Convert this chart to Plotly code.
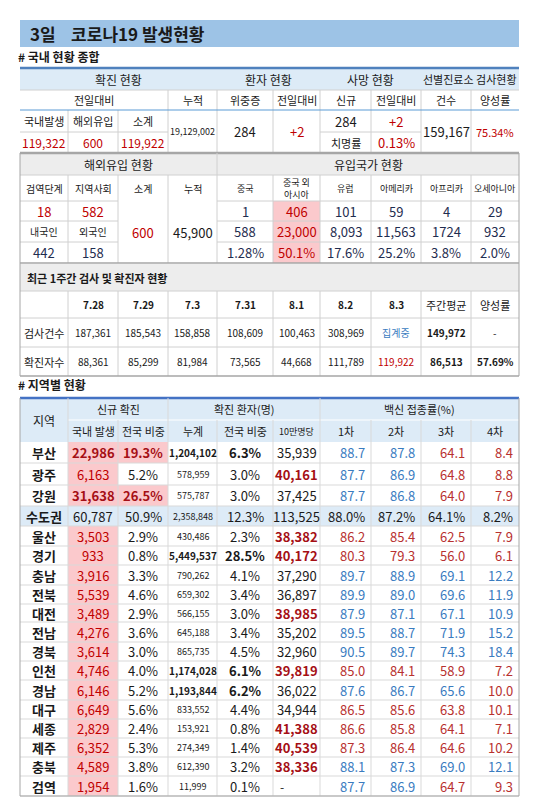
import plotly.graph_objects as go

# ---- 데이터 ----
summary_labels = ["국내발생", "해외유입", "소계"]
summary_values = ["119,322", "600", "119,922"]
cumulative_total = "19,129,002"
critical = "284"
critical_diff = "+2"
deaths_new = "284"
deaths_diff = "+2"
fatality = "0.13%"
tests_count = "159,167"
positivity = "75.34%"

import_hdr = ["검역단계", "지역사회", "소계", "누적", "중국", "중국 외<br>아시아", "유럽", "아메리카", "아프리카", "오세아니아"]
import_row1 = ["18", "582"]
import_row2 = ["내국인", "외국인"]
import_row3 = ["442", "158"]
import_subtotal = "600"
import_cumulative = "45,900"
country_counts = ["1", "406", "101", "59", "4", "29"]
country_cumul = ["588", "23,000", "8,093", "11,563", "1724", "932"]
country_share = ["1.28%", "50.1%", "17.6%", "25.2%", "3.8%", "2.0%"]

week_dates = ["7.28", "7.29", "7.3", "7.31", "8.1", "8.2", "8.3", "주간평균", "양성률"]
week_tests = ["187,361", "185,543", "158,858", "108,609", "100,463", "308,969", "집계중", "149,972", "-"]
week_cases = ["88,361", "85,299", "81,984", "73,565", "44,668", "111,789", "119,922", "86,513", "57.69%"]

regions = ["부산", "광주", "강원", "수도권", "울산", "경기", "충남", "전북", "대전", "전남", "경북",
           "인천", "경남", "대구", "세종", "제주", "충북", "검역"]
new_cases = ["22,986", "6,163", "31,638", "60,787", "3,503", "933", "3,916", "5,539", "3,489", "4,276",
             "3,614", "4,746", "6,146", "6,649", "2,829", "6,352", "4,589", "1,954"]
new_share = ["19.3%", "5.2%", "26.5%", "50.9%", "2.9%", "0.8%", "3.3%", "4.6%", "2.9%", "3.6%",
             "3.0%", "4.0%", "5.2%", "5.6%", "2.4%", "5.3%", "3.8%", "1.6%"]
cum_cases = ["1,204,102", "578,959", "575,787", "2,358,848", "430,486", "5,449,537", "790,262", "659,302",
             "566,155", "645,188", "865,735", "1,174,028", "1,193,844", "833,552", "153,921", "274,349",
             "612,390", "11,999"]
cum_share = ["6.3%", "3.0%", "3.0%", "12.3%", "2.3%", "28.5%", "4.1%", "3.4%", "3.0%", "3.4%", "4.5%",
             "6.1%", "6.2%", "4.4%", "0.8%", "1.4%", "3.2%", "0.1%"]
per_100k = ["35,939", "40,161", "37,425", "113,525", "38,382", "40,172", "37,290", "36,897", "38,985",
            "35,202", "32,960", "39,819", "36,022", "34,944", "41,388", "40,539", "38,336", "-"]
vac1 = ["88.7", "87.7", "87.7", "88.0%", "86.2", "80.3", "89.7", "89.9", "87.9", "89.5", "90.5", "85.0",
        "87.6", "86.5", "86.6", "87.3", "88.1", "87.7"]
vac2 = ["87.8", "86.9", "86.8", "87.2%", "85.4", "79.3", "88.9", "89.0", "87.1", "88.7", "89.7", "84.1",
        "86.7", "85.6", "85.8", "86.4", "87.3", "86.9"]
vac3 = ["64.1", "64.8", "64.0", "64.1%", "62.5", "56.0", "69.1", "69.6", "67.1", "71.9", "74.3", "58.9",
        "65.6", "63.8", "64.1", "64.6", "69.0", "64.7"]
vac4 = ["8.4", "8.8", "7.9", "8.2%", "7.9", "6.1", "12.2", "11.9", "10.9", "15.2", "18.4", "7.2",
        "10.0", "10.1", "7.1", "10.2", "12.1", "9.3"]
# 백신 색상 (B=파랑, R=빨강)
vac_flags = ["BBRR", "BBRR", "BBRR", "----", "RRRR", "RRRR", "BBBB", "BBBB", "BBBB", "BBBB", "BBBB",
             "RRRR", "BBBR", "RRRR", "RRRR", "RRRR", "BBBB", "BBRR"]

# ---- 스타일 ----
XS = [12, 60, 110, 160, 209, 265, 312, 363, 413, 463, 511]
LB = "#ddebf7"
GRAY = "#ededed"
PINK = "#fbc9cc"
RED = "#c00000"
DRED = "#a50f15"
BLUE = "#3a7cbf"
NAVY = "#1f2d50"
TXT = "#1a1a1a"
FONT = "Noto Sans CJK KR"

fig = go.Figure()
shapes, annots = [], []


def rect(x0, x1, y0, y1, fill):
    shapes.append(dict(type="rect", x0=x0, x1=x1, y0=y0, y1=y1, fillcolor=fill, line_width=0, layer="below"))


def line(x0, y0, x1, y1, color="#d0d0d0", w=1):
    shapes.append(dict(type="line", x0=x0, x1=x1, y0=y0, y1=y1, line=dict(color=color, width=w)))


def txt(x0, x1, y0, y1, s, size=12, color=TXT, bold=False, align="center"):
    if bold:
        s = "<b>" + s + "</b>"
    x = (x0 + x1) / 2 if align == "center" else x0 + 5
    annots.append(dict(x=x, y=(y0 + y1) / 2, text=s, showarrow=False, xanchor=align,
                       yanchor="middle", font=dict(size=size, color=color, family=FONT)))


def cell(c0, c1, y0, y1, s, **kw):
    txt(XS[c0], XS[c1], y0, y1, s, **kw)


# 제목
rect(12, 511, 12, 39, "#9dc3e6")
txt(15, 300, 12, 39, "3일    코로나19 발생현황", size=17, bold=True, align="left")
txt(3, 200, 40, 57, "# 국내 현황 종합", size=12, bold=True, align="left")

# ---- 표 1 ----
rect(12, 511, 60, 82, LB)
cell(0, 4, 60, 82, "확진 현황")
cell(4, 6, 60, 82, "환자 현황")
cell(6, 8, 60, 82, "사망 현황")
cell(8, 10, 60, 82, "선별진료소 검사현황", size=11)
for c0, c1, s in [(0, 3, "전일대비"), (3, 4, "누적"), (4, 5, "위중증"), (5, 6, "전일대비"), (6, 7, "신규"),
                  (7, 8, "전일대비"), (8, 9, "건수"), (9, 10, "양성률")]:
    cell(c0, c1, 82, 102, s, size=11)
for i in range(3):
    cell(i, i + 1, 102, 124, summary_labels[i], size=11)
    cell(i, i + 1, 124, 145, summary_values[i], size=12, color=RED)
cell(3, 4, 102, 145, cumulative_total, size=9)
cell(4, 5, 102, 145, critical, size=13)
cell(5, 6, 102, 145, critical_diff, size=13, color=RED)
cell(6, 7, 102, 124, deaths_new, size=13)
cell(7, 8, 102, 124, deaths_diff, size=13, color=RED)
cell(6, 7, 124, 145, "치명률", size=11)
cell(7, 8, 124, 145, fatality, size=13, color=RED)
cell(8, 9, 102, 145, tests_count, size=13)
cell(9, 10, 102, 145, positivity, size=11, color=RED)
for c in range(1, 10):
    line(XS[c], 102 if c in (1, 2) else 82, XS[c], 145)
line(12, 82, 511, 82)
line(12, 124, 160, 124)
line(312, 124, 413, 124)
line(12, 102, 511, 102, "#5b9bd5", 1)
line(12, 60, 511, 60, "#4f81bd", 2.5)
line(12, 145, 511, 145, "#a6a6a6", 2.5)

# ---- 표 2 ----
rect(12, 511, 146, 167, GRAY)
rect(265, 312, 193, 255, PINK)
cell(0, 4, 145, 167, "해외유입 현황")
cell(4, 10, 145, 167, "유입국가 현황")
for i, s in enumerate(import_hdr):
    cell(i, i + 1, 167, 193, s, size=9 if i >= 4 else 10)
for i in range(2):
    cell(i, i + 1, 193, 213, import_row1[i], size=13, color=RED)
    cell(i, i + 1, 213, 234, import_row2[i], size=10)
    cell(i, i + 1, 234, 255, import_row3[i], size=13, color=NAVY)
cell(2, 3, 193, 255, import_subtotal, size=13, color=RED)
cell(3, 4, 193, 255, import_cumulative, size=13, color=TXT)
for j in range(6):
    col = RED if j == 1 else NAVY
    cell(4 + j, 5 + j, 193, 213, country_counts[j], size=13, color=col)
    cell(4 + j, 5 + j, 213, 234, country_cumul[j], size=13, color=col)
    cell(4 + j, 5 + j, 234, 255, country_share[j], size=13, color=col)
for y in (193, 213, 234):
    line(12, y, 110, y)
    line(209, y, 511, y)
line(12, 167, 511, 167)
for c in range(1, 10):
    line(XS[c], 167, XS[c], 255)
line(209, 145, 209, 167)
line(12, 255, 511, 255, "#a6a6a6", 1.5)

# ---- 표 3 ----
rect(12, 511, 256, 283, GRAY)
txt(12, 400, 256, 283, "최근 1주간 검사 및 확진자 현황", size=11, bold=True, align="left")
for j, s in enumerate(week_dates):
    cell(1 + j, 2 + j, 283, 310, s, size=11 if j >= 7 else 10, bold=j < 7)
cell(0, 1, 310, 339, "검사건수", size=11)
cell(0, 1, 339, 368, "확진자수", size=11)
for j in range(9):
    ct = BLUE if week_tests[j] == "집계중" else TXT
    cell(1 + j, 2 + j, 310, 339, week_tests[j], size=10, color=ct, bold=j == 7)
    cc = RED if j == 6 else TXT
    cell(1 + j, 2 + j, 339, 368, week_cases[j], size=10, color=cc, bold=j >= 7)
line(12, 283, 511, 283)
line(12, 310, 511, 310)
line(12, 339, 511, 339)
for c in range(1, 10):
    line(XS[c], 283, XS[c], 368)
line(12, 368, 511, 368, "#a6a6a6", 1.5)
for x in (12, 511):
    line(x, 145, x, 368, "#a6a6a6", 1)

txt(3, 200, 368, 384, "# 지역별 현황", size=12, bold=True, align="left")

# ---- 지역별 ----
rect(12, 511, 390, 434, LB)
cell(0, 1, 390, 434, "지역", size=12)
cell(1, 3, 390, 412, "신규 확진", size=11)
cell(3, 6, 390, 412, "확진 환자(명)", size=11)
cell(6, 10, 390, 412, "백신 접종률(%)", size=11)
for c, s in enumerate(["국내 발생", "전국 비중", "누계", "전국 비중", "10만명당", "1차", "2차", "3차", "4차"]):
    cell(c + 1, c + 2, 412, 434, s, size=11 if c != 4 else 9)
line(60, 412, 511, 412, "#ffffff", 1)
line(12, 390, 511, 390, "#4472c4", 2.5)

YS = [434, 455, 477, 498, 518, 538, 557, 577, 596, 614, 634, 653, 672, 692, 711, 730, 749, 768, 788]
red100k = {"광주", "울산", "경기", "대전", "인천", "세종", "제주", "충북"}
boldcum = {"부산", "경기", "인천", "경남"}
for i, r in enumerate(regions):
    y0, y1 = YS[i], YS[i + 1]
    metro = r == "수도권"
    if metro:
        rect(12, 511, y0, y1, LB)
    else:
        rect(60, 110, y0, y1, PINK)
    big = r in ("부산", "강원")
    if big:
        rect(110, 160, y0, y1, PINK)
    cell(0, 1, y0, y1, r, size=13, bold=True)
    cell(1, 2, y0, y1, new_cases[i], size=13, color=TXT if metro else (DRED if big else RED), bold=big)
    cell(2, 3, y0, y1, new_share[i], size=13, color=DRED if big else TXT, bold=big)
    cell(3, 4, y0, y1, cum_cases[i], size=9 if r not in boldcum else 10, bold=r in boldcum)
    cell(4, 5, y0, y1, cum_share[i], size=13, bold=r in boldcum)
    if r in red100k:
        cell(5, 6, y0, y1, per_100k[i], size=13, color=DRED, bold=True)
    elif per_100k[i] == "-":
        txt(XS[5], XS[6], y0, y1, "-", size=12, align="left")
    else:
        cell(5, 6, y0, y1, per_100k[i], size=13)
    for k, v in enumerate([vac1, vac2, vac3, vac4]):
        f = vac_flags[i][k]
        col = TXT if f == "-" else (BLUE if f == "B" else "#b8312f")
        annots.append(dict(x=XS[7 + k] - 4, y=(y0 + y1) / 2, text=v[i], showarrow=False, xanchor="right",
                           yanchor="middle", font=dict(size=13, color=col, family=FONT)))
    line(12, y1, 511, y1, "#d9d9d9")
for c in range(1, 10):
    line(XS[c], 412 if c not in (1, 3, 6) else 390, XS[c], 788, "#d9d9d9")
for x in (12, 511):
    line(x, 390, x, 788, "#a6a6a6", 1)
line(12, 788, 511, 788, "#a6a6a6", 1)

fig.update_layout(
    width=550, height=802, margin=dict(l=0, r=0, t=0, b=0),
    paper_bgcolor="white", plot_bgcolor="white",
    xaxis=dict(range=[0, 550], visible=False, fixedrange=True),
    yaxis=dict(range=[802, 0], visible=False, fixedrange=True),
    shapes=shapes, annotations=annots, showlegend=False,
)
fig.write_html("out.html")
